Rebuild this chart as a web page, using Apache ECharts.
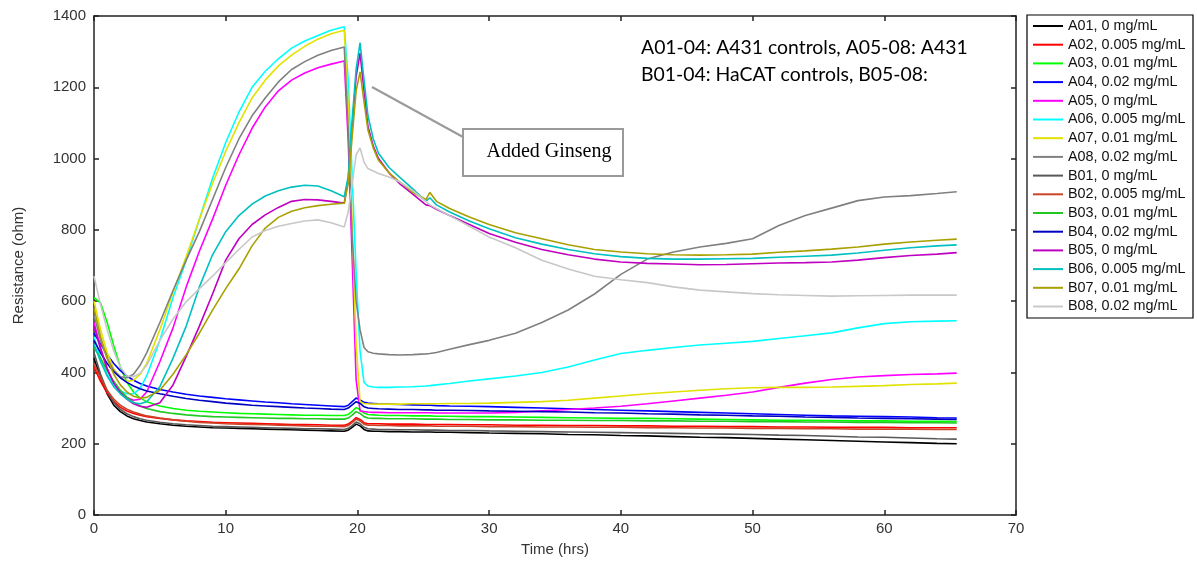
<!DOCTYPE html>
<html>
<head>
<meta charset="utf-8">
<title>Resistance</title>
<script src="https://cdn.jsdelivr.net/npm/echarts@6/dist/echarts.min.js"></script>
<style>
html,body{margin:0;padding:0;background:#fff;}
#main{width:1197px;height:565px;}
</style>
</head>
<body>
<div id="main"></div>
<script>
// time points (hrs)
var hrs = [0,0.5,1,1.5,2,2.5,3,3.5,4,5,
    6,7,8,9,10,11,12,13,14,15,
    16,17,18,19,19.3,19.6,19.9,20.2,20.5,20.8,
    21.2,21.6,22.4,23.2,24.2,25.2,25.5,26,27,28.5,
    30,32,34,36,38,40,42,44,46,48,
    50,52,54,56,58,60,62,64,65.5];

// resistance (ohm) per well
var a01 = [440,385,340,308,290,278,270,265,261,256,
    252,249,247,245,244,243,242,241,240,239,
    238,237,236,235,238,246,255,250,240,236,
    235,235,234,234,233,233,233,232,232,231,
    230,229,228,226,225,223,222,220,218,217,
    215,213,211,209,207,205,203,201,200];
var a02 = [415,375,342,318,302,292,285,280,276,271,
    267,264,262,260,259,258,257,256,255,254,
    254,253,252,252,255,263,273,268,259,256,
    256,256,255,255,255,254,254,254,254,253,
    253,252,252,251,251,250,250,249,249,248,
    248,247,247,246,246,246,245,245,245];
var a03 = [610,595,540,475,415,372,345,328,318,306,
    299,294,291,289,287,285,284,283,282,281,
    280,280,279,279,282,291,301,296,286,282,
    281,280,279,279,278,278,278,277,277,276,
    276,275,274,273,272,271,271,270,269,268,
    267,266,266,265,264,264,263,263,262];
var a04 = [510,480,450,425,405,390,378,369,362,352,
    345,339,334,330,326,323,320,317,315,312,
    310,308,306,304,308,318,328,323,316,314,
    313,312,311,310,309,308,308,307,306,305,
    304,302,300,298,296,294,292,290,288,286,
    284,282,280,278,277,276,275,273,272];
var a05 = [540,470,410,370,345,330,322,325,345,430,
    525,640,740,830,925,1010,1085,1145,1190,1220,
    1240,1255,1265,1274,1050,720,380,292,290,289,
    288,288,287,287,287,287,287,286,286,286,
    286,288,292,296,300,305,312,320,328,336,
    345,358,370,380,387,391,394,396,398];
var a06 = [500,440,395,365,348,340,340,355,390,490,
    610,715,830,945,1045,1130,1200,1245,1280,1310,
    1330,1345,1360,1370,1220,950,680,460,372,362,
    359,358,358,359,360,362,363,365,369,376,
    382,390,400,415,435,453,462,470,477,482,
    487,495,503,511,525,537,542,544,545];
var a07 = [600,520,455,410,385,375,378,395,425,520,
    625,725,830,930,1020,1100,1170,1220,1260,1290,
    1315,1335,1350,1360,1150,820,480,318,313,312,
    311,311,311,311,312,312,312,312,313,313,
    314,316,318,322,328,334,340,345,350,354,
    357,358,358,359,361,363,366,368,370];
var a08 = [560,490,440,405,388,385,395,420,455,540,
    630,715,795,885,975,1055,1120,1170,1215,1250,
    1272,1290,1303,1313,1080,780,600,520,470,458,
    454,452,450,449,450,452,453,456,465,478,
    490,510,540,575,620,675,718,738,752,762,
    775,812,840,861,882,892,896,902,907];
var b01 = [455,395,348,315,296,284,276,270,266,260,
    256,253,251,249,248,247,246,245,244,243,
    242,242,241,240,243,251,261,256,246,242,
    241,240,240,239,239,238,238,238,237,237,
    236,235,234,233,232,231,230,229,228,227,
    226,224,223,221,219,218,216,214,213];
var b02 = [425,385,350,325,308,297,289,283,278,272,
    267,263,260,258,256,255,254,253,252,251,
    250,249,249,248,251,259,269,264,255,252,
    252,251,251,250,250,250,250,249,249,249,
    248,248,247,247,246,246,245,245,244,244,
    243,243,242,242,241,241,241,240,240];
var b03 = [470,440,405,375,350,330,316,306,299,290,
    285,281,278,276,275,274,273,272,271,271,
    270,270,269,269,272,280,290,285,276,272,
    271,271,270,270,270,269,269,269,268,268,
    267,267,266,266,265,265,264,264,263,263,
    262,262,261,261,260,260,259,259,258];
var b04 = [490,455,425,402,385,372,362,354,348,340,
    333,327,322,318,314,311,308,306,304,302,
    300,299,297,296,300,309,318,313,304,300,
    299,298,297,296,296,295,295,294,294,293,
    292,291,290,289,287,286,284,283,281,280,
    278,277,275,274,272,271,270,269,268];
var b05 = [530,465,410,370,343,325,312,305,302,315,
    365,445,530,620,715,775,815,842,863,880,
    885,884,880,875,940,1090,1230,1296,1190,1090,
    1035,1000,960,930,900,870,868,858,840,815,
    790,765,745,730,718,710,706,704,702,703,
    705,707,708,710,715,722,728,732,736];
var b06 = [480,430,390,360,340,325,315,312,318,360,
    440,530,640,730,795,840,872,895,910,920,
    925,923,910,893,950,1110,1250,1325,1220,1120,
    1055,1015,975,948,915,880,890,870,850,825,
    803,778,760,745,733,725,720,718,718,719,
    720,723,726,729,735,743,750,755,758];
var b07 = [580,500,440,395,365,345,333,328,330,350,
    395,450,510,575,635,690,755,805,835,852,
    862,868,872,875,930,1060,1190,1243,1160,1080,
    1030,995,960,935,905,885,905,880,860,836,
    815,792,775,758,745,738,733,730,729,730,
    732,737,741,746,752,760,766,771,774];
var b08 = [670,590,520,460,415,390,388,398,420,490,
    550,598,635,670,708,745,780,798,810,818,
    825,828,820,808,850,930,1010,1030,990,972,
    965,958,948,935,910,880,870,860,840,810,
    780,750,715,690,670,660,652,640,631,626,
    621,618,616,614,615,616,617,617,617];

var names = ['A01, 0 mg/mL','A02, 0.005 mg/mL','A03, 0.01 mg/mL','A04, 0.02 mg/mL',
    'A05, 0 mg/mL','A06, 0.005 mg/mL','A07, 0.01 mg/mL','A08, 0.02 mg/mL',
    'B01, 0 mg/mL','B02, 0.005 mg/mL','B03, 0.01 mg/mL','B04, 0.02 mg/mL',
    'B05, 0 mg/mL','B06, 0.005 mg/mL','B07, 0.01 mg/mL','B08, 0.02 mg/mL'];
var values = [a01,a02,a03,a04,a05,a06,a07,a08,b01,b02,b03,b04,b05,b06,b07,b08];
var colors = ['#000000','#ff0000','#00ff00','#0000ff','#ff00ff','#00ffff','#e2e200','#808080',
    '#585858','#cc4428','#22c822','#0000c0','#c000c0','#00c0c0','#a8a000','#c8c8c8'];

var font = 'Liberation Sans, Arial, sans-serif';

//组装折线
function buildSeries(){
    var sers = [];
    for(var i=0;i<values.length;i++){
        var pts = [];
        for(var j=0;j<hrs.length;j++){
            pts.push([hrs[j], values[i][j]]);
        }
        sers.push({
            name:names[i],
            type:'line',
            color:colors[i],
            showSymbol:false,
            symbol:'none',
            lineStyle:{width:1.6},
            data:pts
        });
    }
    return sers;
}

var axisLine = {show:true, onZero:false, lineStyle:{color:'#222', width:1.5}};
var axisTick = {show:true, inside:true, length:5, lineStyle:{color:'#222', width:1.5}};

var myChart = echarts.init(document.getElementById('main'));
var option = {
    animation:false,
    backgroundColor:'#fff',
    grid:{left:94, top:16, width:922, height:499},
    legend:{
        orient:'vertical',
        left:1033,
        top:19,
        padding:0,
        itemWidth:30,
        itemHeight:2,
        itemGap:4.7,
        icon:'rect',
        data:names,
        textStyle:{fontFamily:font, fontSize:14.4, lineHeight:14, color:'#111'}
    },
    xAxis:[
        {
            type:'value', min:0, max:70, interval:10,
            name:'Time (hrs)', nameLocation:'middle', nameGap:27,
            nameTextStyle:{fontFamily:font, fontSize:15, color:'#333'},
            axisLine:axisLine,
            axisTick:axisTick,
            axisLabel:{fontFamily:font, fontSize:15, color:'#333', margin:6},
            splitLine:{show:false}
        },
        {
            type:'value', min:0, max:70, interval:10, position:'top',
            axisLine:axisLine,
            axisTick:axisTick,
            axisLabel:{show:false},
            splitLine:{show:false}
        }
    ],
    yAxis:[
        {
            type:'value', min:0, max:1400, interval:200,
            name:'Resistance (ohm)', nameLocation:'middle', nameGap:68,
            nameTextStyle:{fontFamily:font, fontSize:15, color:'#333'},
            axisLine:axisLine,
            axisTick:axisTick,
            axisLabel:{fontFamily:font, fontSize:15, color:'#333', margin:8,
                formatter:function(v){return String(v);}},
            splitLine:{show:false}
        },
        {
            type:'value', min:0, max:1400, interval:200, position:'right',
            axisLine:axisLine,
            axisTick:axisTick,
            axisLabel:{show:false},
            splitLine:{show:false}
        }
    ],
    graphic:[
        // 图例边框
        {type:'rect', shape:{x:1027, y:15, width:166, height:303},
            style:{fill:'none', stroke:'#000', lineWidth:1.2}, z:100},
        // 说明文字
        {type:'text', style:{x:641, y:48, text:'A01-04: A431 controls, A05-08: A431',
            font:'19.4px Lato, sans-serif', fill:'#000', textVerticalAlign:'middle'}, z:100},
        {type:'text', style:{x:641, y:75, text:'B01-04: HaCAT controls, B05-08:',
            font:'19.4px Lato, sans-serif', fill:'#000', textVerticalAlign:'middle'}, z:100},
        // Added Ginseng
        {type:'line', shape:{x1:372, y1:87, x2:463, y2:137},
            style:{stroke:'#9a9a9a', lineWidth:2}, z:100},
        {type:'rect', shape:{x:463, y:129, width:160, height:47},
            style:{fill:'#fff', stroke:'#9a9a9a', lineWidth:2}, z:100},
        {type:'text', style:{x:549, y:152, text:'Added Ginseng',
            font:'20px "Liberation Serif", "Times New Roman", serif', fill:'#000',
            textAlign:'center', textVerticalAlign:'middle'}, z:101}
    ],
    series:buildSeries()
};
myChart.setOption(option);
</script>
</body>
</html>
